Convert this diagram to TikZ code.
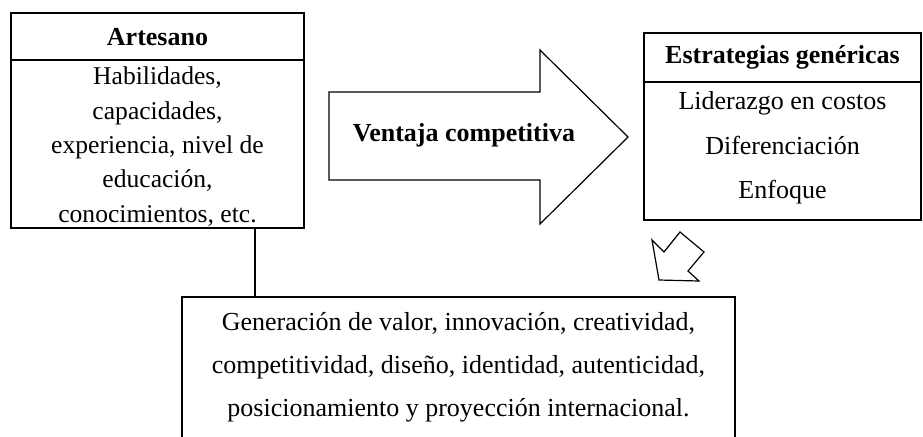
\documentclass[tikz,border=0pt]{standalone}
\usepackage{fontspec}
\setmainfont{Liberation Serif}
\begin{document}
\begin{tikzpicture}[x=0.5pt,y=-0.5pt,
  box/.style={draw,line width=0.6pt,rectangle,inner sep=0pt},
  line/.style={line width=0.6pt},
  head/.style={font=\fontsize{13}{15}\selectfont\bfseries,inner sep=0pt},
  body/.style={align=center,inner sep=0pt},
]
\clip (0,0) rectangle (923,436);
\useasboundingbox (0,0) rectangle (923,436);
% left box
\node[box,minimum width=146.5pt,minimum height=107.5pt] (art) at (157.5,120.5) {};
\draw[line] (art.west |- 0,60) -- (art.east |- 0,60);
\node[head] (arth) at (157.5,37) {Artesano};
\node[body,font=\fontsize{12.8}{17.2}\selectfont] (artb) at (157.5,146.5) {Habilidades,\\capacidades,\\experiencia, nivel de\\educación,\\conocimientos, etc.};
% right box
\node[box,minimum width=138.5pt,minimum height=93.5pt] (est) at (782.5,126.5) {};
\draw[line] (est.west |- 0,82) -- (est.east |- 0,82);
\node[head] (esth) at (782.5,57) {Estrategias genéricas};
\node[body,font=\fontsize{13}{22.2}\selectfont] (estb) at (782.5,148) {Liderazgo en costos\\Diferenciación\\Enfoque};
% big arrow
\coordinate (a1) at (329,92);
\coordinate (a2) at (540,92);
\coordinate (a3) at (540,50);
\coordinate (a4) at (628,137);
\coordinate (a5) at (540,224);
\coordinate (a6) at (540,180);
\coordinate (a7) at (329,180);
\draw[line,line join=miter] (a1) -- (a2) -- (a3) -- (a4) -- (a5) -- (a6) -- (a7) -- cycle;
\node[head] (vent) at (464,135) {Ventaja competitiva};
% small arrow
\coordinate (s1) at (652,240);
\coordinate (s2) at (664,252);
\coordinate (s3) at (680,232);
\coordinate (s4) at (704,252);
\coordinate (s5) at (688,271);
\coordinate (s6) at (699,281);
\coordinate (s7) at (659,280);
\draw[line,line join=miter] (s1) -- (s2) -- (s3) -- (s4) -- (s5) -- (s6) -- (s7) -- cycle;
% bottom box
\node[box,minimum width=276.5pt,minimum height=80pt] (gen) at (458.5,377) {};
\node[body,font=\fontsize{13}{21.5}\selectfont] (genb) at (458.5,367) {Generación de valor, innovación, creatividad,\\competitividad, diseño, identidad, autenticidad,\\posicionamiento y proyección internacional.};
% connector
\coordinate (c) at (255,0);
\draw[line] (art.south -| c) -- (gen.north -| c);
\end{tikzpicture}
\end{document}
